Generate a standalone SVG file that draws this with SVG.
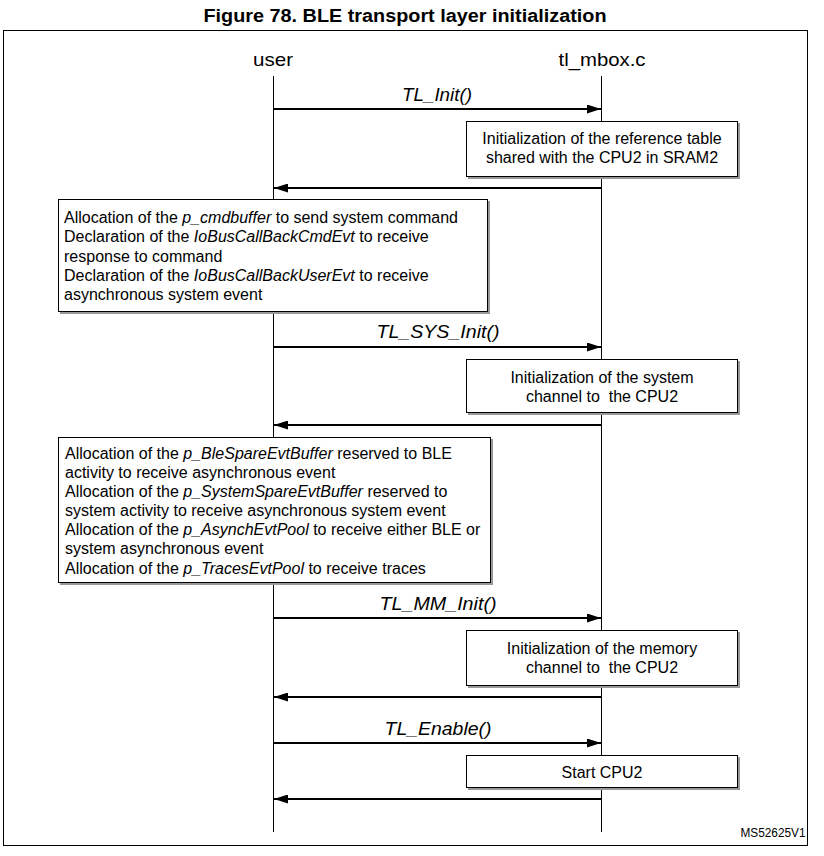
<svg xmlns="http://www.w3.org/2000/svg" width="824" height="856" viewBox="0 0 824 856">
<defs>
<marker id="ah" markerWidth="14" markerHeight="9" refX="14" refY="4.5" orient="auto" markerUnits="userSpaceOnUse">
<path d="M0,0 L14,4.5 L0,9 Z" fill="#000"/>
</marker>
</defs>
<style>
text{font-family:"Liberation Sans",Arial,sans-serif;fill:#000}
.title{font-size:18px;font-weight:bold}
.head{font-size:19px}
.call{font-size:18px;font-style:italic}
.bt{font-size:16px;white-space:pre}
.box{fill:#fff;stroke:#000;stroke-width:1}
.shadow{fill:#999}
.life{stroke:#000;stroke-width:1}
.msg{stroke:#000;stroke-width:2;fill:none;marker-end:url(#ah)}
</style>
<rect width="824" height="856" fill="#fff"/>
<text class="title" x="405" y="22" text-anchor="middle" textLength="403" lengthAdjust="spacingAndGlyphs">Figure 78. BLE transport layer initialization</text>
<rect x="3.5" y="30.5" width="804" height="815" fill="none" stroke="#000" stroke-width="1"/>
<g id="user">
<text class="head" x="273" y="66" text-anchor="middle" textLength="40" lengthAdjust="spacingAndGlyphs">user</text>
<line class="life" x1="273.5" y1="76" x2="273.5" y2="832"/>
</g>
<g id="tl_mbox">
<text class="head" x="602" y="66" text-anchor="middle" textLength="87" lengthAdjust="spacingAndGlyphs">tl_mbox.c</text>
<line class="life" x1="601.5" y1="76" x2="601.5" y2="832"/>
</g>
<g id="box1">
<rect class="shadow" x="468" y="123" width="272" height="56"/>
<rect class="box" x="466.5" y="121.5" width="271" height="55"/>
<text class="bt" x="602" y="144" text-anchor="middle">Initialization of the reference table</text>
<text class="bt" x="602" y="163" text-anchor="middle">shared with the CPU2 in SRAM2</text>
</g>
<g id="boxA">
<rect class="shadow" x="60" y="201" width="430" height="113"/>
<rect class="box" x="58.5" y="199.5" width="429" height="112"/>
<text class="bt" x="64" y="223">Allocation of the <tspan font-style="italic">p_cmdbuffer</tspan> to send system command</text>
<text class="bt" x="64" y="242">Declaration of the <tspan font-style="italic">IoBusCallBackCmdEvt</tspan> to receive</text>
<text class="bt" x="64" y="262">response to command</text>
<text class="bt" x="64" y="281">Declaration of the <tspan font-style="italic">IoBusCallBackUserEvt</tspan> to receive</text>
<text class="bt" x="64" y="300">asynchronous system event</text>
</g>
<g id="box2">
<rect class="shadow" x="468" y="361" width="272" height="54"/>
<rect class="box" x="466.5" y="359.5" width="271" height="53"/>
<text class="bt" x="602" y="383" text-anchor="middle">Initialization of the system</text>
<text class="bt" x="602" y="402" text-anchor="middle">channel to  the CPU2</text>
</g>
<g id="boxB">
<rect class="shadow" x="60" y="439" width="433" height="146"/>
<rect class="box" x="58.5" y="437.5" width="432" height="145"/>
<text class="bt" x="65" y="459">Allocation of the <tspan font-style="italic">p_BleSpareEvtBuffer</tspan> reserved to BLE</text>
<text class="bt" x="65" y="478">activity to receive asynchronous event</text>
<text class="bt" x="65" y="497">Allocation of the <tspan font-style="italic">p_SystemSpareEvtBuffer</tspan> reserved to</text>
<text class="bt" x="65" y="516">system activity to receive asynchronous system event</text>
<text class="bt" x="65" y="535">Allocation of the <tspan font-style="italic">p_AsynchEvtPool</tspan> to receive either BLE or</text>
<text class="bt" x="65" y="554">system asynchronous event</text>
<text class="bt" x="65" y="574">Allocation of the <tspan font-style="italic">p_TracesEvtPool</tspan> to receive traces</text>
</g>
<g id="box3">
<rect class="shadow" x="468" y="632" width="272" height="56"/>
<rect class="box" x="466.5" y="630.5" width="271" height="55"/>
<text class="bt" x="602" y="654" text-anchor="middle">Initialization of the memory</text>
<text class="bt" x="602" y="673" text-anchor="middle">channel to  the CPU2</text>
</g>
<g id="box4">
<rect class="shadow" x="468" y="757" width="272" height="33"/>
<rect class="box" x="466.5" y="755.5" width="271" height="32"/>
<text class="bt" x="602" y="778" text-anchor="middle">Start CPU2</text>
</g>
<g id="connectors">
<line class="msg" x1="274" y1="109" x2="601" y2="109"/>
<text class="call" x="437" y="101" text-anchor="middle" textLength="70" lengthAdjust="spacingAndGlyphs">TL_Init()</text>
<line class="msg" x1="601" y1="188" x2="274" y2="188"/>
<line class="msg" x1="274" y1="347" x2="601" y2="347"/>
<text class="call" x="438" y="338" text-anchor="middle" textLength="123" lengthAdjust="spacingAndGlyphs">TL_SYS_Init()</text>
<line class="msg" x1="601" y1="425" x2="274" y2="425"/>
<line class="msg" x1="274" y1="618" x2="601" y2="618"/>
<text class="call" x="438" y="610" text-anchor="middle" textLength="117" lengthAdjust="spacingAndGlyphs">TL_MM_Init()</text>
<line class="msg" x1="601" y1="697" x2="274" y2="697"/>
<line class="msg" x1="274" y1="743" x2="601" y2="743"/>
<text class="call" x="438" y="735" text-anchor="middle" textLength="107" lengthAdjust="spacingAndGlyphs">TL_Enable()</text>
<line class="msg" x1="601" y1="799" x2="274" y2="799"/>
</g>
<text x="773" y="837" text-anchor="middle" font-size="12" textLength="65" lengthAdjust="spacingAndGlyphs">MS52625V1</text>
</svg>
